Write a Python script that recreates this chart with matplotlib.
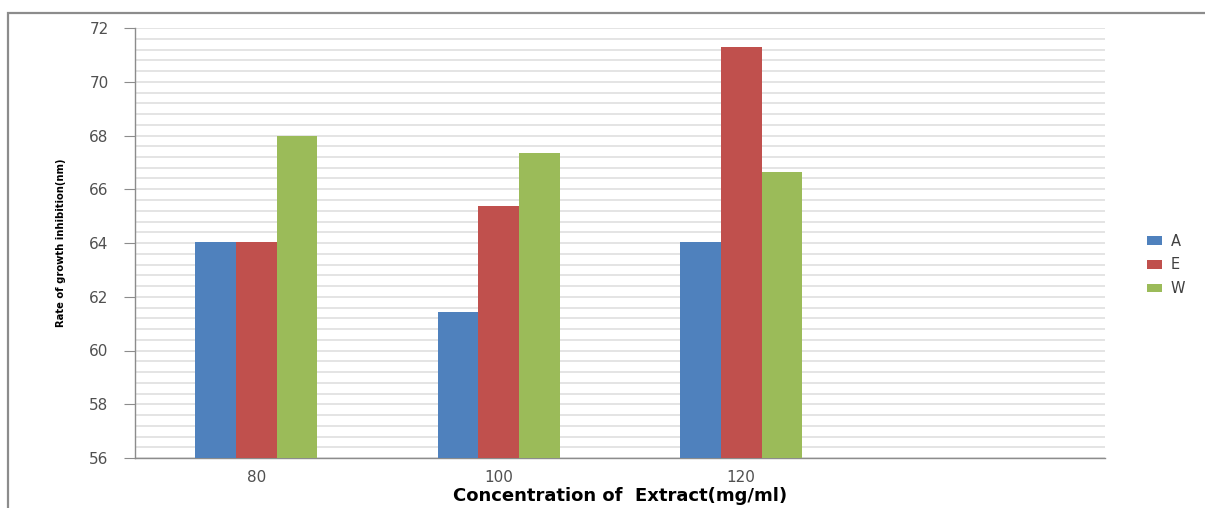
import matplotlib
matplotlib.use("Agg")
import matplotlib.pyplot as plt
from matplotlib.patches import Rectangle
from matplotlib.ticker import MultipleLocator
import numpy as np

plt.rcParams["font.family"] = ["DejaVu Sans"]

categories = ["80", "100", "120", ""]
series_names = ["A", "E", "W"]
values_a = [64.04, 61.42, 64.04]
values_e = [64.04, 65.36, 71.28]
values_w = [67.98, 67.34, 66.64]
colors = ["#4F81BD", "#C0504D", "#9BBB59"]

fig = plt.figure(figsize=(12.05, 5.08), dpi=100)
ax = fig.add_axes([135 / 1205, 50 / 508, 970 / 1205, 430 / 508])

# outer chart frame
fig.patches.append(Rectangle((8 / 1205, -0.05), 1.1, 0.05 + (508 - 13) / 508,
                             transform=fig.transFigure, fill=False,
                             edgecolor="#8c8c8c", linewidth=1.6))

x = np.arange(len(categories))
width = 0.168
for i, (name, vals) in enumerate(zip(series_names, [values_a, values_e, values_w])):
    ax.bar(x[:len(vals)] + (i - 1) * width, np.array(vals) - 56, width=width,
           bottom=56, color=colors[i], label=name, zorder=3)

ax.set_xlim(-0.5, 3.5)
ax.set_ylim(56, 72)
ax.yaxis.set_major_locator(MultipleLocator(2))
ax.yaxis.set_minor_locator(MultipleLocator(0.4))
ax.grid(axis="y", which="both", color="#dcdcdc", linewidth=1.1, zorder=0)
ax.set_axisbelow(True)

ax.set_xticks(x)
ax.set_xticklabels(categories)
ax.tick_params(axis="x", length=0, pad=9, labelsize=11, labelcolor="#505050")
ax.tick_params(axis="y", which="major", length=8, color="#8c8c8c",
               labelsize=11, labelcolor="#505050", pad=11)
ax.tick_params(axis="y", which="minor", length=0)

for s in ["top", "right"]:
    ax.spines[s].set_visible(False)
for s in ["left", "bottom"]:
    ax.spines[s].set_color("#8c8c8c")
    ax.spines[s].set_linewidth(1.0)

ax.set_xlabel("Concentration of  Extract(mg/ml)", fontsize=13,
              fontweight="bold", labelpad=1)
ax.set_ylabel("Rate of growth inhibition(nm)", fontsize=8, fontweight="bold",
              fontstretch="condensed", labelpad=17)

ax.legend(loc="center left", bbox_to_anchor=(1.03, 0.449), frameon=False,
          fontsize=10.5, handlelength=1.0, handleheight=0.55, labelspacing=0.6,
          handletextpad=0.6, labelcolor="#404040")

fig.savefig("out.png", dpi=100)
